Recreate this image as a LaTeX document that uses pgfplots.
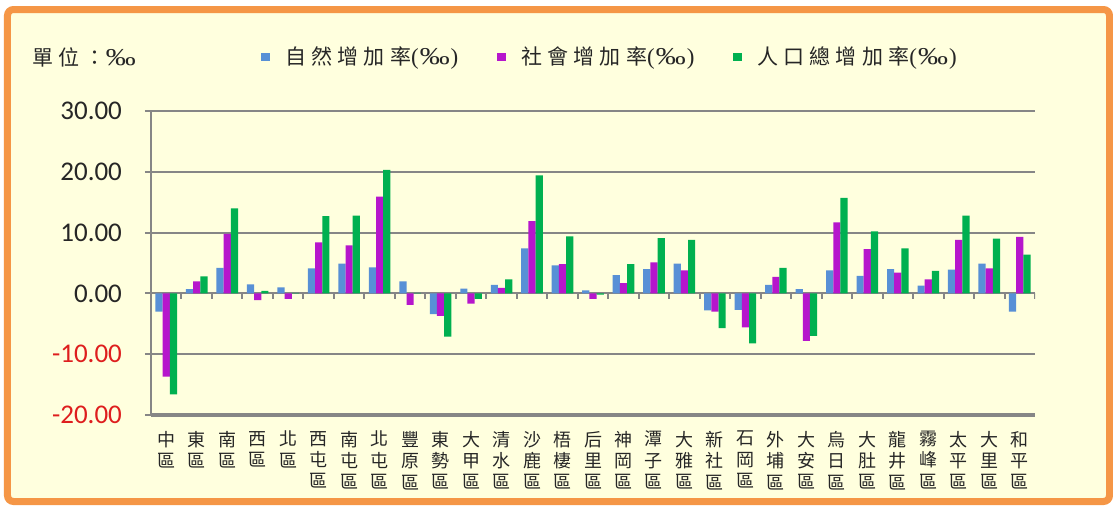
\documentclass[border=0pt]{standalone}
\usepackage{fontspec}
\usepackage{graphicx}
\usepackage{pgfplots}
\pgfplotsset{compat=1.18}
\usepackage{pgfplotstable}
\setmainfont{Liberation Serif}
\newfontfamily\cjk{Noto Sans CJK TC}
\newfontfamily\cjksp[LetterSpace=25]{Noto Sans CJK TC}
\newfontfamily\carlito{Carlito}
\newfontfamily\lserif{Liberation Serif}

\definecolor{natblue}{RGB}{88,144,214}
\definecolor{socpurple}{RGB}{182,22,204}
\definecolor{totgreen}{RGB}{0,176,80}
\definecolor{bgyellow}{RGB}{255,255,222}
\definecolor{frameorange}{RGB}{245,150,70}
\definecolor{gridgray}{RGB}{134,134,134}
\definecolor{negred}{RGB}{222,30,30}

\newcommand{\permil}{{\lserif\fontsize{11.5}{13}\selectfont\scalebox{1.3}[1.05]{‰}}}
\newcommand{\pmparen}{{\lserif\fontsize{11.5}{13}\selectfont(\kern0.5pt\scalebox{1.3}[1.05]{‰}\kern0.5pt)}}

\pgfplotsset{sq legend/.style={legend image code/.code={\fill[##1] (0pt,-2.2pt) rectangle (4.4pt,2.2pt);}}}

% natural / social / total increase rates, per mille
\pgfplotstableread{
x  nat   soc    tot
0  -3.0  -13.7  -16.6
1   0.7    2.0    2.8
2   4.2    9.8   14.0
3   1.5   -1.1    0.4
4   1.0   -0.9    0.1
5   4.1    8.4   12.7
6   4.9    7.9   12.8
7   4.3   15.9   20.3
8   2.0   -1.9    0.1
9  -3.4   -3.7   -7.1
10  0.8   -1.7   -0.9
11  1.4    0.9    2.3
12  7.4   11.9   19.4
13  4.6    4.8    9.4
14  0.5   -0.9   -0.2
15  3.0    1.7    4.8
16  4.0    5.1    9.1
17  4.9    3.8    8.8
18 -2.8   -3.0   -5.7
19 -2.7   -5.6   -8.2
20  1.4    2.7    4.2
21  0.7   -7.8   -7.0
22  3.8   11.7   15.7
23  2.9    7.3   10.2
24  4.0    3.4    7.4
25  1.3    2.3    3.7
26  3.9    8.8   12.8
27  4.9    4.1    9.0
28 -3.0    9.3    6.4
}\rates

\begin{document}
\begin{tikzpicture}
\fill[white] (-75.5pt,-45pt) rectangle (481pt,207.5pt);
\draw[frameorange, line width=3.5pt, fill=bgyellow, rounded corners=3pt]
  (-71.75pt,-43.25pt) rectangle (479.25pt,202.75pt);
\node[anchor=west, inner sep=0pt, font=\cjksp\fontsize{10.5}{12}\selectfont, text=black!85]
  at (-59.5pt,179pt) {單位：\permil};
\begin{axis}[
  at={(0pt,0pt)}, anchor=south west,
  scale only axis, width=442pt, height=152pt,
  ybar=0pt, bar width=3.6pt,
  xmin=-0.5, xmax=28.5, ymin=-20, ymax=30,
  axis x line*=bottom, axis y line*=left,
  x axis line style={-, gridgray, line width=2pt},
  y axis line style={-, gridgray, line width=1pt},
  ymajorgrids, grid style={gridgray, line width=1pt},
  tick align=outside, major tick length=3pt,
  ytick={-20,-10,0,10,20,30},
  yticklabels={{\color{negred}-20.00},{\color{negred}-10.00},0.00,10.00,20.00,30.00},
  ytick style={gridgray, line width=1pt},
  yticklabel style={font=\carlito\fontsize{13.5}{15}\selectfont, text=black!85, xshift=-8pt},
  xtick={0,...,28},
  xticklabels={{中\\區},{東\\區},{南\\區},{西\\區},{北\\區},{西\\屯\\區},{南\\屯\\區},
    {北\\屯\\區},{豐\\原\\區},{東\\勢\\區},{大\\甲\\區},{清\\水\\區},{沙\\鹿\\區},
    {梧\\棲\\區},{后\\里\\區},{神\\岡\\區},{潭\\子\\區},{大\\雅\\區},{新\\社\\區},
    {石\\岡\\區},{外\\埔\\區},{大\\安\\區},{烏\\日\\區},{大\\肚\\區},{龍\\井\\區},
    {霧\\峰\\區},{太\\平\\區},{大\\里\\區},{和\\平\\區}},
  xtick style={draw=none},
  xticklabel style={font=\cjk\fontsize{9}{10.7}\selectfont, align=center, anchor=north,
    text=black!85, yshift=-1.5pt},
  legend columns=3,
  legend style={at={(0.1244,1.1776)}, anchor=west, draw=none, fill=none,
    inner sep=0pt, font=\cjksp\fontsize{10.5}{12}\selectfont, text=black!85,
    /tikz/every odd column/.append style={column sep=5pt},
    /tikz/every even column/.append style={column sep=17pt},
    nodes={inner sep=2.5pt}},
]
\addplot[fill=natblue, draw=none, sq legend] table[x=x, y=nat]{\rates};
\addlegendentry{自然增加率\pmparen}
\addplot[fill=socpurple, draw=none, sq legend] table[x=x, y=soc]{\rates};
\addlegendentry{社會增加率\pmparen}
\addplot[fill=totgreen, draw=none, sq legend] table[x=x, y=tot]{\rates};
\addlegendentry{人口總增加率\pmparen}
\pgfplotsinvokeforeach{-0.5,0.5,...,28.5}{
  \draw[gridgray, line width=1pt] (axis cs:#1,0) -- ([yshift=-3pt]axis cs:#1,0);
}
\end{axis}
\pgfresetboundingbox
\path[use as bounding box] (-75.5pt,-45pt) rectangle (481pt,207.5pt);
\end{tikzpicture}
\end{document}
